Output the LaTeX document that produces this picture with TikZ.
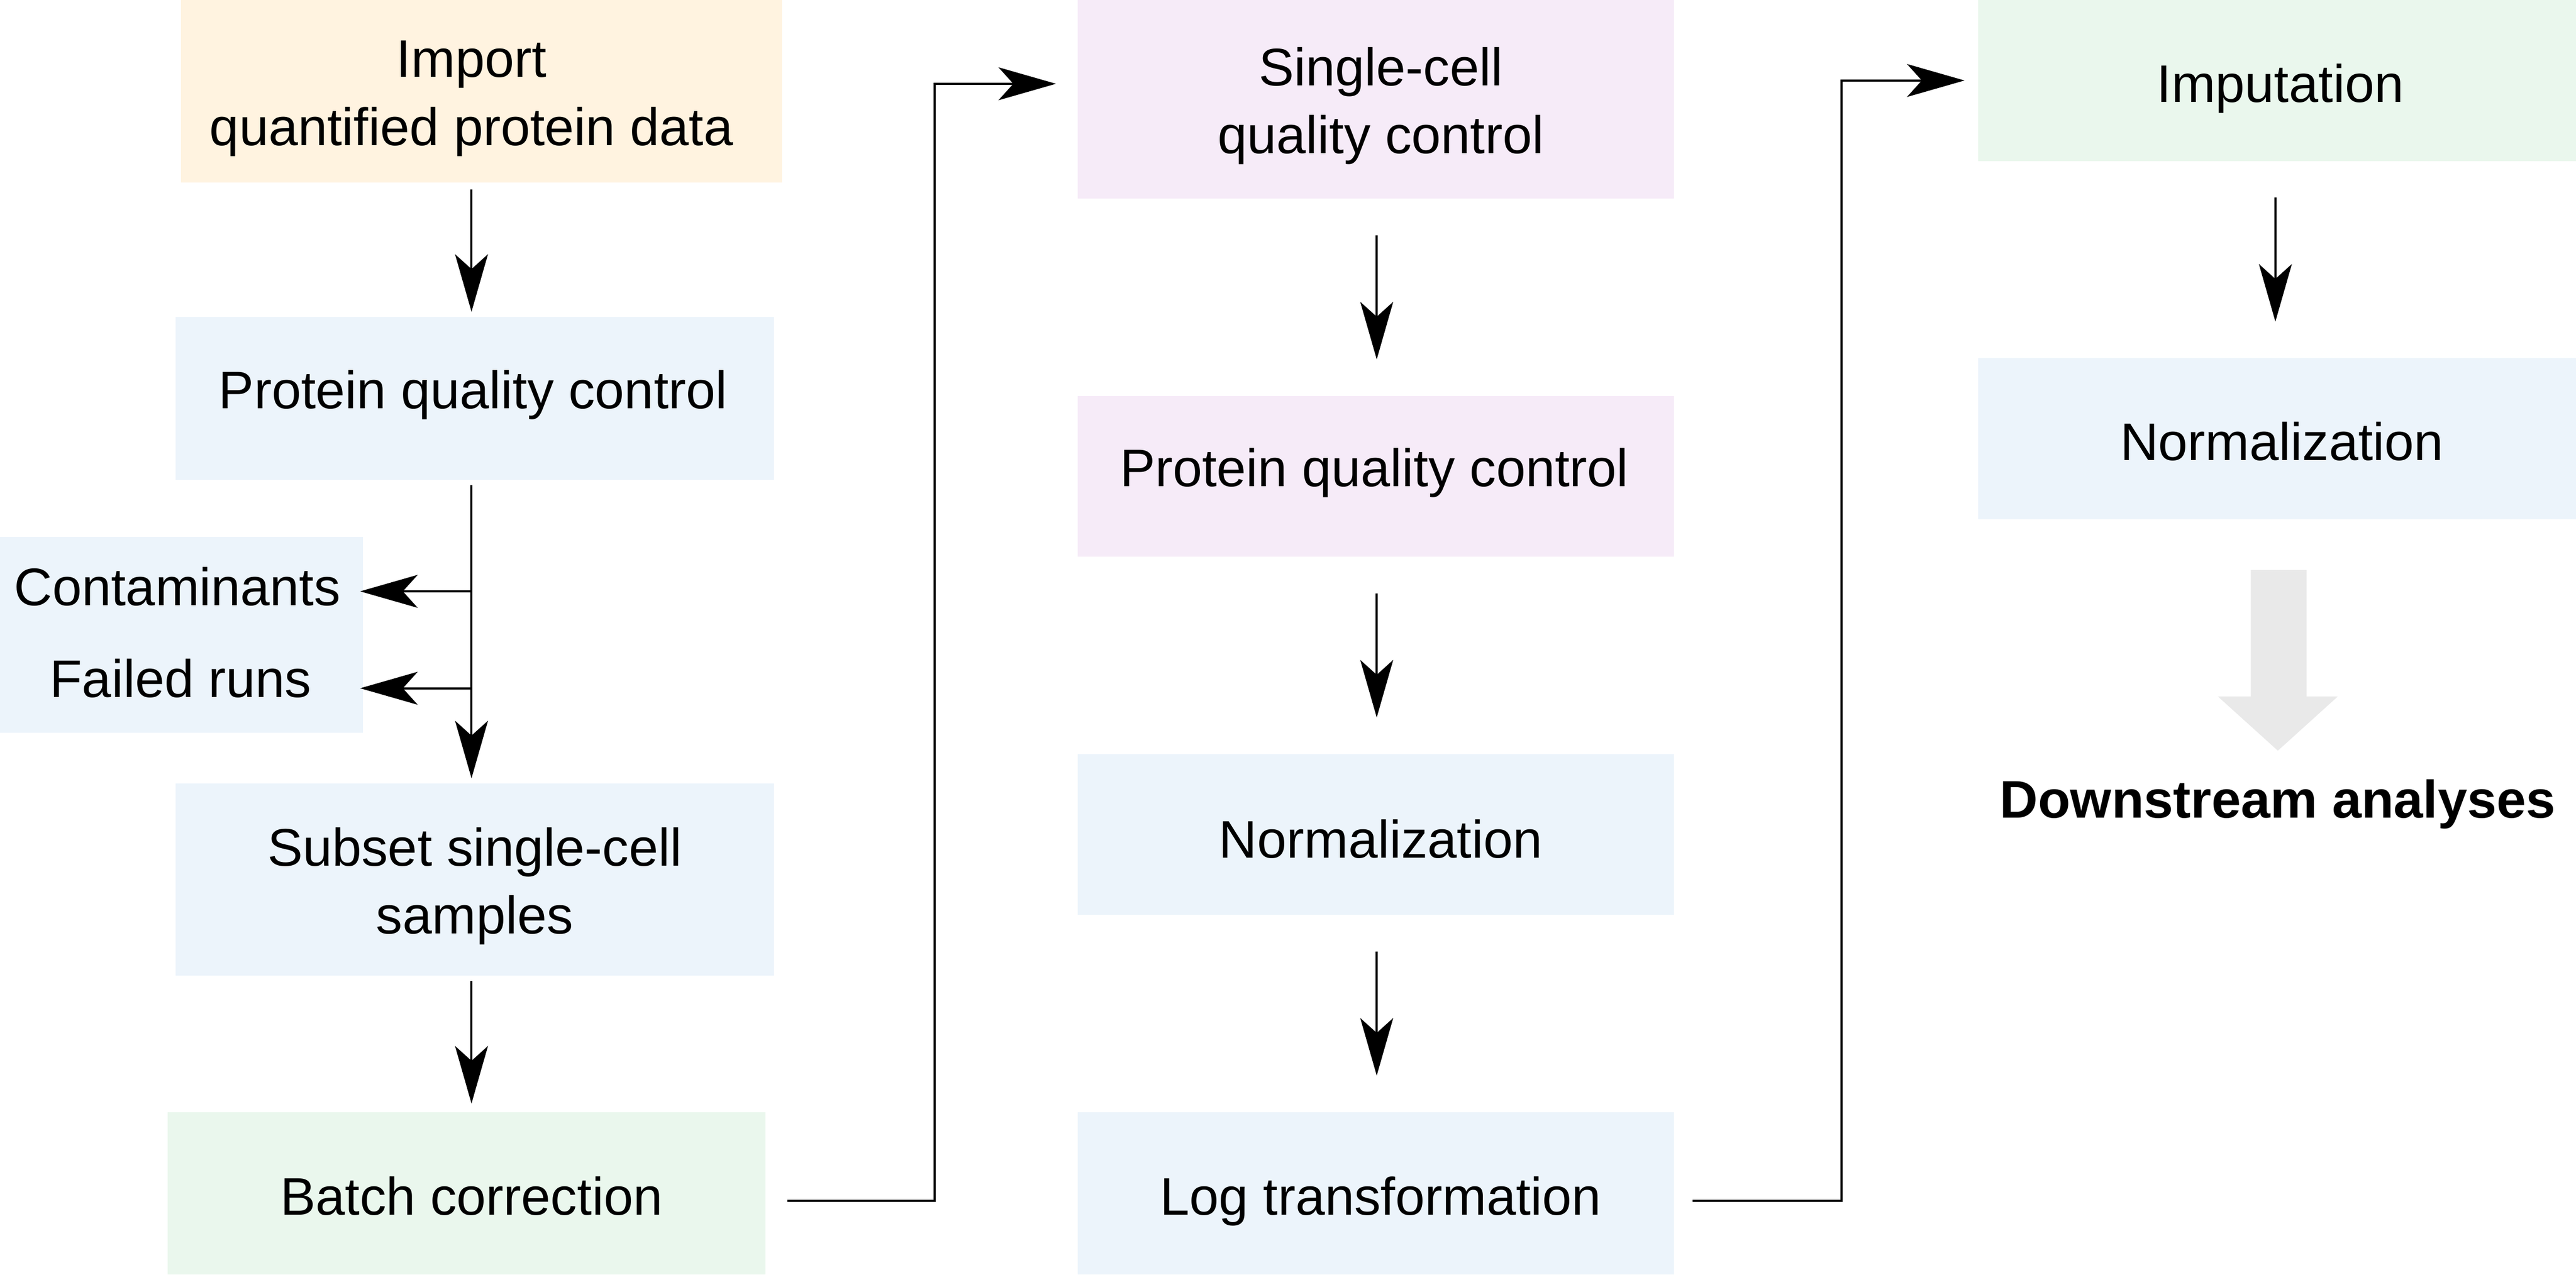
\documentclass[tikz,border=0pt]{standalone}
\usepackage{fontspec}
\setmainfont{Liberation Sans}
\usetikzlibrary{arrows.meta,calc}
\definecolor{cOrange}{HTML}{FFF3E0}
\definecolor{cBlue}{HTML}{ECF4FB}
\definecolor{cGreen}{HTML}{EAF7ED}
\definecolor{cPurple}{HTML}{F6EBF8}
\definecolor{cGray}{HTML}{E9E9E9}
% move the printed text right by #1 pt and down by #2 pt without changing the reported box size
\newcommand{\txtsh}[3]{\raisebox{-#2pt}[\height][\depth]{\makebox[\dimexpr\width-(#1pt)\relax][l]{\hspace*{#1pt}\begin{tabular}{@{}c@{}}#3\end{tabular}}}}
\begin{document}
\begin{tikzpicture}[x=1pt,y=-1pt,
  every node/.style={font=\fontsize{32.2}{41.5}\selectfont, inner sep=0pt},
  box/.style={rectangle, align=center, minimum width=364pt},
  arr/.style={draw=black, line width=1.3pt, -{Stealth[length=35pt,width=20pt,inset=9pt]}},
]
\useasboundingbox (0,0) rectangle (1568,776);
% boxes
\node[box, fill=cOrange, minimum width=366pt, minimum height=111pt] (imp) at (293,55.5) {\txtsh{-6}{4}{Import\\quantified protein data}};
\node[box, fill=cBlue, minimum height=99pt] (pqcL) at (289,242.5) {\txtsh{-1}{-2}{Protein quality control}};
\node[rectangle, fill=cBlue, minimum width=221pt, minimum height=119pt] (contbox) at (110.5,386.5) {};
\node (cont) at (108,357) {Contaminants};
\node (fail) at (110,413) {Failed runs};
\node[box, fill=cBlue, minimum height=117pt] (subset) at (289,535.5) {\txtsh{0}{4}{Subset single-cell\\samples}};
\node[box, fill=cGreen, minimum height=99pt] (batch) at (284,726.5) {\txtsh{3}{5}{Batch correction}};
\node[box, fill=cPurple, minimum width=363pt, minimum height=121pt] (sc) at (837.5,60.5) {\txtsh{3}{4}{Single-cell\\quality control}};
\node[box, fill=cPurple, minimum width=363pt, minimum height=98pt] (pqcM) at (837.5,290) {\txtsh{-1}{-2}{Protein quality control}};
\node[box, fill=cBlue, minimum width=363pt, minimum height=98pt] (normM) at (837.5,508) {\txtsh{3}{6}{Normalization}};
\node[box, fill=cBlue, minimum width=363pt, minimum height=99pt] (logt) at (837.5,726.5) {\txtsh{3}{5}{Log transformation}};
\node[box, fill=cGreen, minimum height=98pt] (imput) at (1386,49) {\txtsh{2}{5}{Imputation}};
\node[box, fill=cBlue, minimum height=98pt] (normR) at (1386,267) {\txtsh{3}{5}{Normalization}};
\node[font=\fontsize{32.2}{41.5}\selectfont\bfseries, anchor=base] (down) at (1386.5,498) {Downstream analyses};
% helper coordinates
\coordinate (colA) at (287,0);
\coordinate (colB) at (838,0);
\coordinate (colC) at (1385,0);
\coordinate (bc) at (287,360);
\coordinate (bf) at (287,419);
\coordinate (e1) at (569,0);
\coordinate (e2) at (1121,0);
\coordinate (s1) at ($(batch.east)+(13,4.5)$);
\coordinate (t1) at ($(sc.west)+(-13,-9.5)$);
\coordinate (s2) at ($(logt.east)+(11,4.5)$);
\coordinate (t2) at ($(imput.west)+(-8,0)$);
% arrows left column
\draw[arr, shorten <=4pt, shorten >=3pt] (imp.south -| colA) -- (pqcL.north -| colA);
\draw[arr, shorten <=3pt, shorten >=3pt] (pqcL.south -| colA) -- (subset.north -| colA);
\draw[arr, shorten >=-2pt] (bc) -- (bc -| contbox.east);
\draw[arr, shorten >=-2pt] (bf) -- (bf -| contbox.east);
\draw[arr, shorten <=3pt, shorten >=5pt] (subset.south -| colA) -- (batch.north -| colA);
% elbow connectors
\draw[arr] (s1) -- (s1 -| e1) -- (e1 |- t1) -- (t1);
\draw[arr] (s2) -- (s2 -| e2) -- (e2 |- t2) -- (t2);
% middle column
\draw[arr, shorten <=22pt, shorten >=22pt] (sc.south -| colB) -- (pqcM.north -| colB);
\draw[arr, shorten <=22pt, shorten >=22pt] (pqcM.south -| colB) -- (normM.north -| colB);
\draw[arr, shorten <=22pt, shorten >=22pt] (normM.south -| colB) -- (logt.north -| colB);
% right column
\draw[arr, shorten <=22pt, shorten >=22pt] (imput.south -| colC) -- (normR.north -| colC);
% big gray arrow
\fill[cGray] (1370,347) -- (1404,347) -- (1404,424) -- (1423,424) -- (1386.5,457) -- (1350,424) -- (1370,424) -- cycle;
\end{tikzpicture}
\end{document}
